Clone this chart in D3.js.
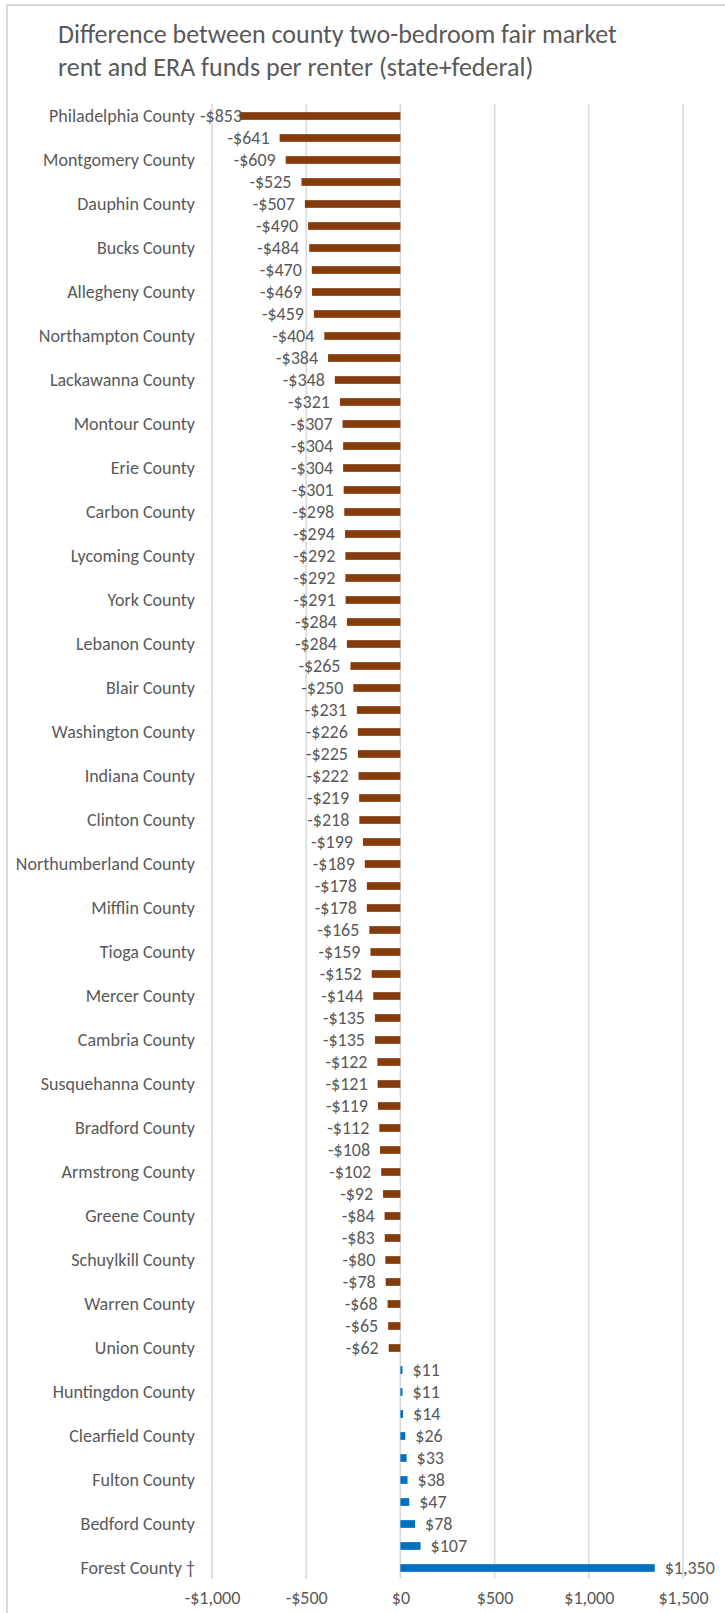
<!DOCTYPE html>
<html>
<head>
<meta charset="utf-8">
<script src="https://cdn.jsdelivr.net/npm/d3@7"></script>
<style>
  body { margin: 0; background: #fff; }
  svg { display: block; font-family: Carlito, Calibri, Lato, sans-serif; }
</style>
</head>
<body>
<div id="chart"></div>
<script>
// Counties in chart order (only every second label is shown in the original)
var countyLabels = [
  "Philadelphia County", "", "Montgomery County", "", "Dauphin County", "",
  "Bucks County", "", "Allegheny County", "", "Northampton County", "",
  "Lackawanna County", "", "Montour County", "", "Erie County", "",
  "Carbon County", "", "Lycoming County", "", "York County", "",
  "Lebanon County", "", "Blair County", "", "Washington County", "",
  "Indiana County", "", "Clinton County", "", "Northumberland County", "",
  "Mifflin County", "", "Tioga County", "", "Mercer County", "",
  "Cambria County", "", "Susquehanna County", "", "Bradford County", "",
  "Armstrong County", "", "Greene County", "", "Schuylkill County", "",
  "Warren County", "", "Union County", "", "Huntingdon County", "",
  "Clearfield County", "", "Fulton County", "", "Bedford County", "",
  "Forest County \u2020"
];

// Fair market rent minus ERA funds per renter, dollars
var rentGap = [
  -853, -641, -609, -525, -507, -490, -484, -470, -469, -459,
  -404, -384, -348, -321, -307, -304, -304, -301, -298, -294,
  -292, -292, -291, -284, -284, -265, -250, -231, -226, -225,
  -222, -219, -218, -199, -189, -178, -178, -165, -159, -152,
  -144, -135, -135, -122, -121, -119, -112, -108, -102, -92,
  -84, -83, -80, -78, -68, -65, -62,
  11, 11, 14, 26, 33, 38, 47, 78, 107, 1350
];

var xTicks = [-1000, -500, 0, 500, 1000, 1500];

var width = 725, height = 1613;
var textColor = "#595959";
var labelSize = "18px";

var svg = d3.select("#chart").append("svg")
  .attr("width", width)
  .attr("height", height);

// chart frame
svg.append("rect")
  .attr("x", 7).attr("y", 5)
  .attr("width", 740).attr("height", 1640)
  .attr("fill", "none")
  .attr("stroke", "#d9d9d9")
  .attr("stroke-width", 2);

// Title
var title = svg.append("text")
  .attr("fill", textColor)
  .style("font-size", "26px");
title.append("tspan").attr("x", 58).attr("y", 43)
  .text("Difference between county two-bedroom fair market");
title.append("tspan").attr("x", 58).attr("y", 76)
  .text("rent and ERA funds per renter (state+federal)");

var x = d3.scaleLinear()
  .domain([-1000, 1500])
  .range([212, 683]);

var y = d3.scaleBand()
  .domain(d3.range(rentGap.length))
  .range([105, 1579])
  .paddingInner(0.65)
  .paddingOuter(0.325);

// Vertical gridlines
svg.append("g")
  .selectAll("line")
  .data(xTicks)
  .enter().append("line")
  .attr("x1", d => x(d)).attr("x2", d => x(d))
  .attr("y1", 104).attr("y2", 1579)
  .attr("stroke", "#d9d9d9")
  .attr("stroke-width", 1.5);

// Bars
svg.append("g")
  .selectAll("rect")
  .data(rentGap)
  .enter().append("rect")
  .attr("x", d => x(Math.min(0, d)))
  .attr("y", (d, i) => y(i))
  .attr("width", d => Math.abs(x(d) - x(0)))
  .attr("height", y.bandwidth())
  .attr("fill", d => d < 0 ? "#843c0c" : "#0070c0");

// Value labels (negative ones kept inside the plot's left edge)
var fmt = d => (d < 0 ? "-$" : "$") + d3.format(",")(Math.abs(d));
svg.append("g")
  .selectAll("text")
  .data(rentGap)
  .enter().append("text")
  .attr("y", (d, i) => y(i) + y.bandwidth() / 2)
  .attr("dy", "0.35em")
  .attr("fill", textColor)
  .style("font-size", labelSize)
  .text(fmt)
  .each(function(d) {
    var w = this.getComputedTextLength();
    var x0 = d < 0 ? Math.max(x(d) - 10 - w, 200) : x(d) + 10;
    d3.select(this).attr("x", x0);
  });

// Category labels
svg.append("g")
  .selectAll("text")
  .data(countyLabels)
  .enter().append("text")
  .attr("x", 195)
  .attr("y", (d, i) => y(i) + y.bandwidth() / 2)
  .attr("dy", "0.35em")
  .attr("text-anchor", "end")
  .attr("fill", textColor)
  .style("font-size", labelSize)
  .text(d => d);

// X axis
var xAxis = d3.axisBottom(x)
  .tickValues(xTicks)
  .tickSize(0)
  .tickPadding(0)
  .tickFormat(fmt);

var axisG = svg.append("g")
  .attr("transform", "translate(0,1598)")
  .call(xAxis);
axisG.select(".domain").remove();
axisG.selectAll("text")
  .attr("fill", textColor)
  .attr("dy", "0.35em")
  .style("font-family", "Carlito, Calibri, Lato, sans-serif")
  .style("font-size", labelSize);
</script>
</body>
</html>
